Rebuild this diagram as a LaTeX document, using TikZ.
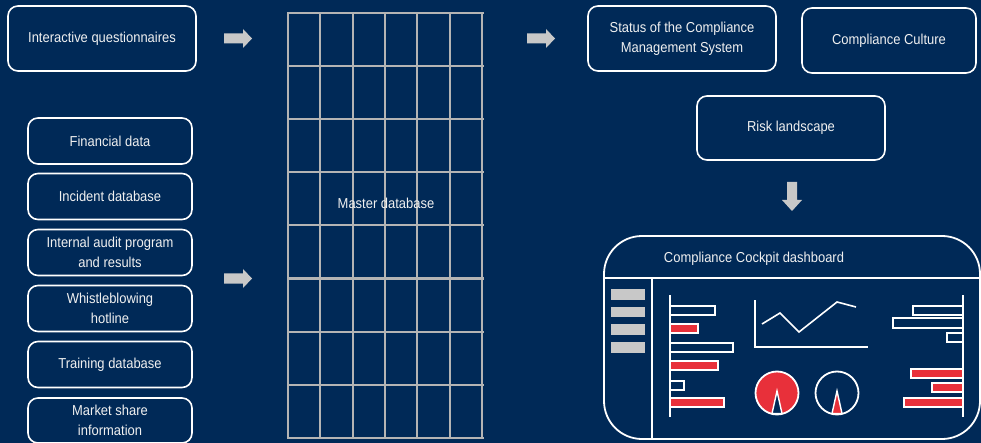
\documentclass[tikz,border=0pt]{standalone}
\usepackage{fontspec}
\setmainfont{Liberation Sans}[FakeStretch=0.9]
\definecolor{navy}{RGB}{0,41,87}
\definecolor{lgrey}{RGB}{200,200,200}
\definecolor{ggrey}{RGB}{180,180,180}
\definecolor{dred}{RGB}{232,48,58}
\definecolor{txt}{RGB}{240,240,240}
\tikzset{
  box/.style={draw=white, line width=1.6pt, rounded corners=10pt, align=center,
    text=txt, font=\fontsize{14.4}{20}\selectfont, inner sep=0pt},
  blockarrow/.style={fill=lgrey, draw=none},
  wbar/.style={draw=white, line width=1.6pt, fill=navy},
  rbar/.style={draw=white, line width=1.6pt, fill=dred},
  wline/.style={draw=white, line width=1.6pt},
}
\begin{document}
\begin{tikzpicture}[x=1pt,y=-1pt]
\fill[navy] (0,0) rectangle (981,443);
\useasboundingbox (0,0) rectangle (981,443);

% left boxes
\node[box, minimum width=188pt, minimum height=65pt] (iq) at (102,38.5) {Interactive questionnaires};
\node[box, minimum width=164pt, minimum height=46pt] (fin) at (110,141) {Financial data};
\node[box, minimum width=164pt, minimum height=46pt] (inc) at (110,196.5) {Incident database};
\node[box, minimum width=164pt, minimum height=46pt] (aud) at (110,252.5) {Internal audit program\\and results};
\node[box, minimum width=164pt, minimum height=46pt] (whi) at (110,308.5) {Whistleblowing\\hotline};
\node[box, minimum width=164pt, minimum height=46pt] (tra) at (110,364.5) {Training database};
\node[box, minimum width=164pt, minimum height=45pt] (mkt) at (110,420.5) {Market share\\information};

% block arrows
\foreach \x/\y in {224/38.5, 224/278.5, 527/38.5}{
  \fill[blockarrow] (\x,\y-5) -- (\x+19,\y-5) -- (\x+19,\y-9.5) -- (\x+28,\y) -- (\x+19,\y+9.5) -- (\x+19,\y+5) -- (\x,\y+5) -- cycle;
}
\fill[blockarrow] (787,182) -- (797,182) -- (797,200) -- (802,200) -- (792,211) -- (782,200) -- (787,200) -- cycle;

% master database grid
\foreach \i in {0,...,6}{
  \draw[ggrey, line width=2pt] (288+\i*32.3,13.5) -- (288+\i*32.3,437.5);
}
\foreach \j in {0,...,8}{
  \draw[ggrey, line width=2pt] (287,13.5+\j*53) -- (483.8,13.5+\j*53);
}
\node[text=txt, font=\fontsize{14.4}{16}\selectfont] (master) at (386,203) {Master database};

% right boxes
\node[box, minimum width=188pt, minimum height=65pt] (cms) at (682,38.5) {Status of the Compliance\\Management System};
\node[box, minimum width=174pt, minimum height=65pt] (cul) at (889,40.5) {Compliance Culture};
\node[box, minimum width=188pt, minimum height=64pt] (risk) at (791,128) {Risk landscape};

% dashboard
\draw[white, line width=1.8pt, rounded corners=38pt] (604,236) rectangle (980,439);
\draw[white, line width=1.6pt] (604,278) -- (980,278);
\draw[white, line width=1.6pt] (652,278) -- (652,439);
\node[text=txt, font=\fontsize{14.4}{16}\selectfont] (dash) at (754,259) {Compliance Cockpit dashboard};

% menu bars
\foreach \y in {289,306.5,324,342}{
  \fill[lgrey] (611,\y) rectangle (645,\y+10.5);
}

% left bar chart
\draw[wbar] (670,306) rectangle (715,315);
\draw[rbar] (670,324) rectangle (698,333);
\draw[wbar] (670,343) rectangle (733,352);
\draw[rbar] (670,361) rectangle (718,370);
\draw[wbar] (670,381) rectangle (684,390);
\draw[rbar] (670,398) rectangle (724,407);
\draw[wline] (670,295) -- (670,417);

% line chart
\draw[wline] (755,300) -- (755,347) -- (868,347);
\draw[wline, line join=miter] (762,324) -- (780,313) -- (799,332) -- (837,302) -- (856,307);

% gauges
\draw[white, line width=1.8pt, fill=dred] (777,393) circle (21.5);
\draw[white, line width=1.4pt, fill=navy] (772,413.5) -- (777,391) -- (782,413.5) -- cycle;
\draw[white, line width=1.8pt, fill=navy] (837,393) circle (21.5);
\draw[white, line width=1.4pt, fill=dred] (832,413.5) -- (837,391) -- (842,413.5) -- cycle;

% right bar chart
\draw[wbar] (913,306) rectangle (963,315);
\draw[wbar] (893,318) rectangle (963,328);
\draw[wbar] (947,333) rectangle (963,342);
\draw[rbar] (911,369) rectangle (963,378);
\draw[rbar] (932,383) rectangle (963,392);
\draw[rbar] (904,398) rectangle (963,407);
\draw[wline] (963,295) -- (963,417);
\end{tikzpicture}
\end{document}
